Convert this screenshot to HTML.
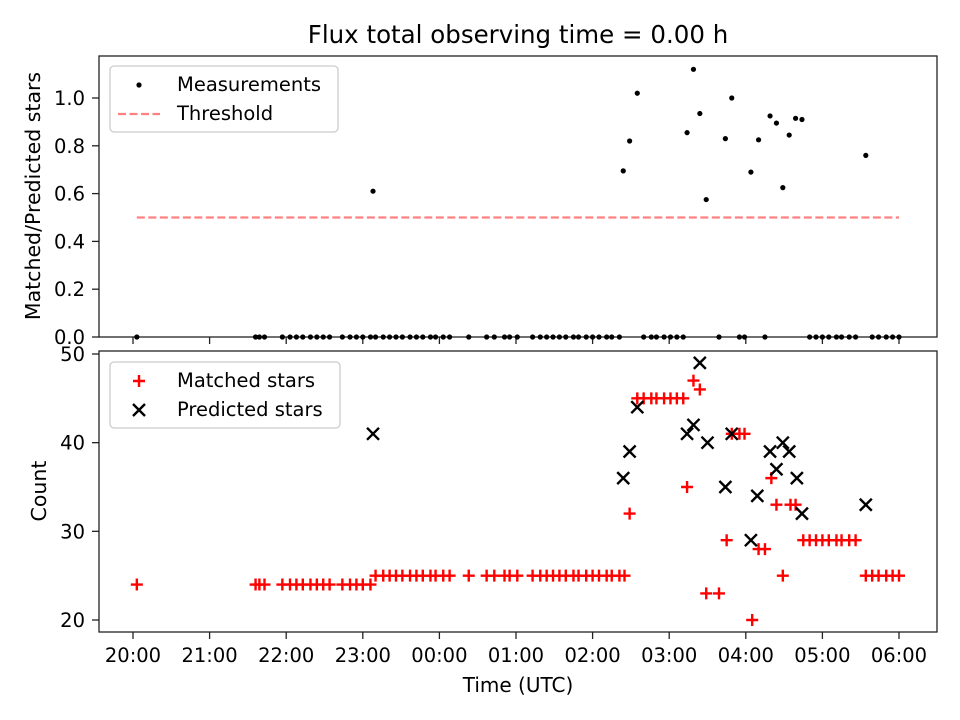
<!DOCTYPE html>
<html><head><meta charset="utf-8"><style>
html,body{margin:0;padding:0;background:#fff;}
svg{display:block;font-family:"DejaVu Sans","Liberation Sans",sans-serif;}
</style></head><body>
<svg id="fig" width="960" height="720" viewBox="0 0 960 720" xmlns="http://www.w3.org/2000/svg">
<rect x="0" y="0" width="960" height="720" fill="#fff"/>
<text x="518" y="43" font-size="24.5" text-anchor="middle">Flux total observing time = 0.00 h</text>
<g id="topPanel"></g>
<g id="botPanel"></g>
<text transform="translate(40,196) rotate(-90)" font-size="20.5" text-anchor="middle">Matched/Predicted stars</text>
<text transform="translate(46,491) rotate(-90)" font-size="20.5" text-anchor="middle">Count</text>
<text x="518" y="692" font-size="20" text-anchor="middle">Time (UTC)</text>
</svg>
<script>
// minutes after 20:00 UTC
const matchedMinutes=[3,96,99,103,117,123,128,133,139,144,149,154,164,170,175,180,186,190,196,201,206,211,217,222,227,233,237,243,248,263,277,283,291,295,301,313,319,324,329,334,339,345,349,355,360,365,371,375,381,385,389,395,400,406,410,416,421,426,431,434,439,444,449,459,465,469,475,479,485,490,495,500,504,509,515,519,525,530,535,540,545,551,555,561,566,574,579,584,590,595,600];
const matchedCounts=[24,24,24,24,24,24,24,24,24,24,24,24,24,24,24,24,24,25,25,25,25,25,25,25,25,25,25,25,25,25,25,25,25,25,25,25,25,25,25,25,25,25,25,25,25,25,25,25,25,25,32,45,45,45,45,45,45,45,45,35,47,46,23,23,29,41,41,41,20,28,28,36,33,25,33,33,29,29,29,29,29,29,29,29,29,25,25,25,25,25,25];
const predictedMinutes=[188,384,389,395,434,439,444,450,464,469,484,489,499,504,509,514,520,524,574];
const predictedCounts=[41,36,39,44,41,42,49,40,35,41,29,34,39,37,40,39,36,32,33];
const ratioMinutes=[188,384,389,395,434,439,444,449,464,469,484,490,499,504,509,514,519,524,574];
const ratioValues=[0.61,0.695,0.82,1.02,0.855,1.12,0.935,0.575,0.83,1.0,0.69,0.825,0.925,0.895,0.625,0.845,0.915,0.91,0.76];
const zeroMinutes=matchedMinutes.filter(m=>!ratioMinutes.some(r=>Math.abs(r-m)<=1));
const threshold=0.5, thresholdStart=3, thresholdEnd=600;
const xTickLabels=["20:00","21:00","22:00","23:00","00:00","01:00","02:00","03:00","04:00","05:00","06:00"];
const topTicks=[0,0.2,0.4,0.6,0.8,1.0];
const botTicks=[20,30,40,50];

const NS="http://www.w3.org/2000/svg";
const L=99,R=937;
const xs=m=>133+m*76.6/60;
const yTop=v=>337-v*239;
const yBot=v=>620-(v-20)*266/30;
function el(p,tag,a){const e=document.createElementNS(NS,tag);for(const k in a)e.setAttribute(k,a[k]);p.appendChild(e);return e;}
const topG=document.getElementById('topPanel'),botG=document.getElementById('botPanel');

function frame(g,y0,y1,ticks,yf,fmt,name){
  const f=el(g,'rect',{x:L,y:y0,width:R-L,height:y1-y0,fill:'none',stroke:'#222','stroke-width':1.3});
  
  
  ticks.forEach(v=>{
    const y=yf(v);
    const t=el(g,'line',{x1:L-7,x2:L,y1:y,y2:y,stroke:'#222','stroke-width':1.3});
    
    
    const tx=el(g,'text',{x:L-14,y:y+7,'font-size':19.5,'text-anchor':'end'});
    tx.textContent=fmt(v);
    
    
  });
  xTickLabels.forEach((lab,i)=>{
    const x=xs(i*60);
    const t=el(g,'line',{x1:x,x2:x,y1:y1,y2:y1+7,stroke:'#222','stroke-width':1.3});
    
    
  });
}
frame(topG,56,337,topTicks,yTop,v=>v.toFixed(1),'top');
frame(botG,351,632,botTicks,yBot,v=>String(v),'bottom');
xTickLabels.forEach((lab,i)=>{
  const tx=el(botG,'text',{x:xs(i*60),y:662,'font-size':19.5,'text-anchor':'middle'});
  tx.textContent=lab;
  
  
});

const th=el(topG,'line',{x1:xs(thresholdStart),x2:xs(thresholdEnd),y1:yTop(threshold),y2:yTop(threshold),stroke:'#ff8080','stroke-width':2.2,'stroke-dasharray':'8,3.5'});



function dot(m,v){
  const c=el(topG,'circle',{cx:xs(m),cy:yTop(v),r:2.6,fill:'#000'});
  
  
}
zeroMinutes.forEach(m=>dot(m,0));
ratioMinutes.forEach((m,i)=>dot(m,ratioValues[i]));

function plus(g,x,y,name){
  const p=el(g,'path',{d:`M${x-6},${y}H${x+6}M${x},${y-6}V${y+6}`,stroke:'#f00','stroke-width':2.4,fill:'none'});
  
  
}
function cross(g,x,y,name){
  const p=el(g,'path',{d:`M${x-6},${y-6}L${x+6},${y+6}M${x-6},${y+6}L${x+6},${y-6}`,stroke:'#000','stroke-width':2.4,fill:'none'});
  
  
}
matchedMinutes.forEach((m,i)=>plus(botG,xs(m),yBot(matchedCounts[i]),'matched-star-point'));
predictedMinutes.forEach((m,i)=>cross(botG,xs(m),yBot(predictedCounts[i]),'predicted-star-point'));

function legendBox(g,y,w,name){
  const r=el(g,'rect',{x:110,y:y,width:w,height:66,rx:4,fill:'#fff','fill-opacity':0.8,stroke:'#ccc','stroke-width':1.3});
  
  
}
function ltext(g,y,s,name){
  const t=el(g,'text',{x:177,y:y,'font-size':19.5});
  t.textContent=s;
  
  
}
legendBox(topG,66,228,'top-legend');
const ld=el(topG,'circle',{cx:139,cy:85,r:2.6,fill:'#000'});


ltext(topG,91,'Measurements','legend-measurements-label');
const ll=el(topG,'line',{x1:118,x2:160,y1:114,y2:114,stroke:'#ff8080','stroke-width':2.2,'stroke-dasharray':'8,3.5'});


ltext(topG,120,'Threshold','legend-threshold-label');

legendBox(botG,362,230,'bottom-legend');
plus(botG,139,381,'legend-matched-marker');
ltext(botG,387,'Matched stars','legend-matched-label');
cross(botG,139,410,'legend-predicted-marker');
ltext(botG,416,'Predicted stars','legend-predicted-label');
</script>
</body></html>
